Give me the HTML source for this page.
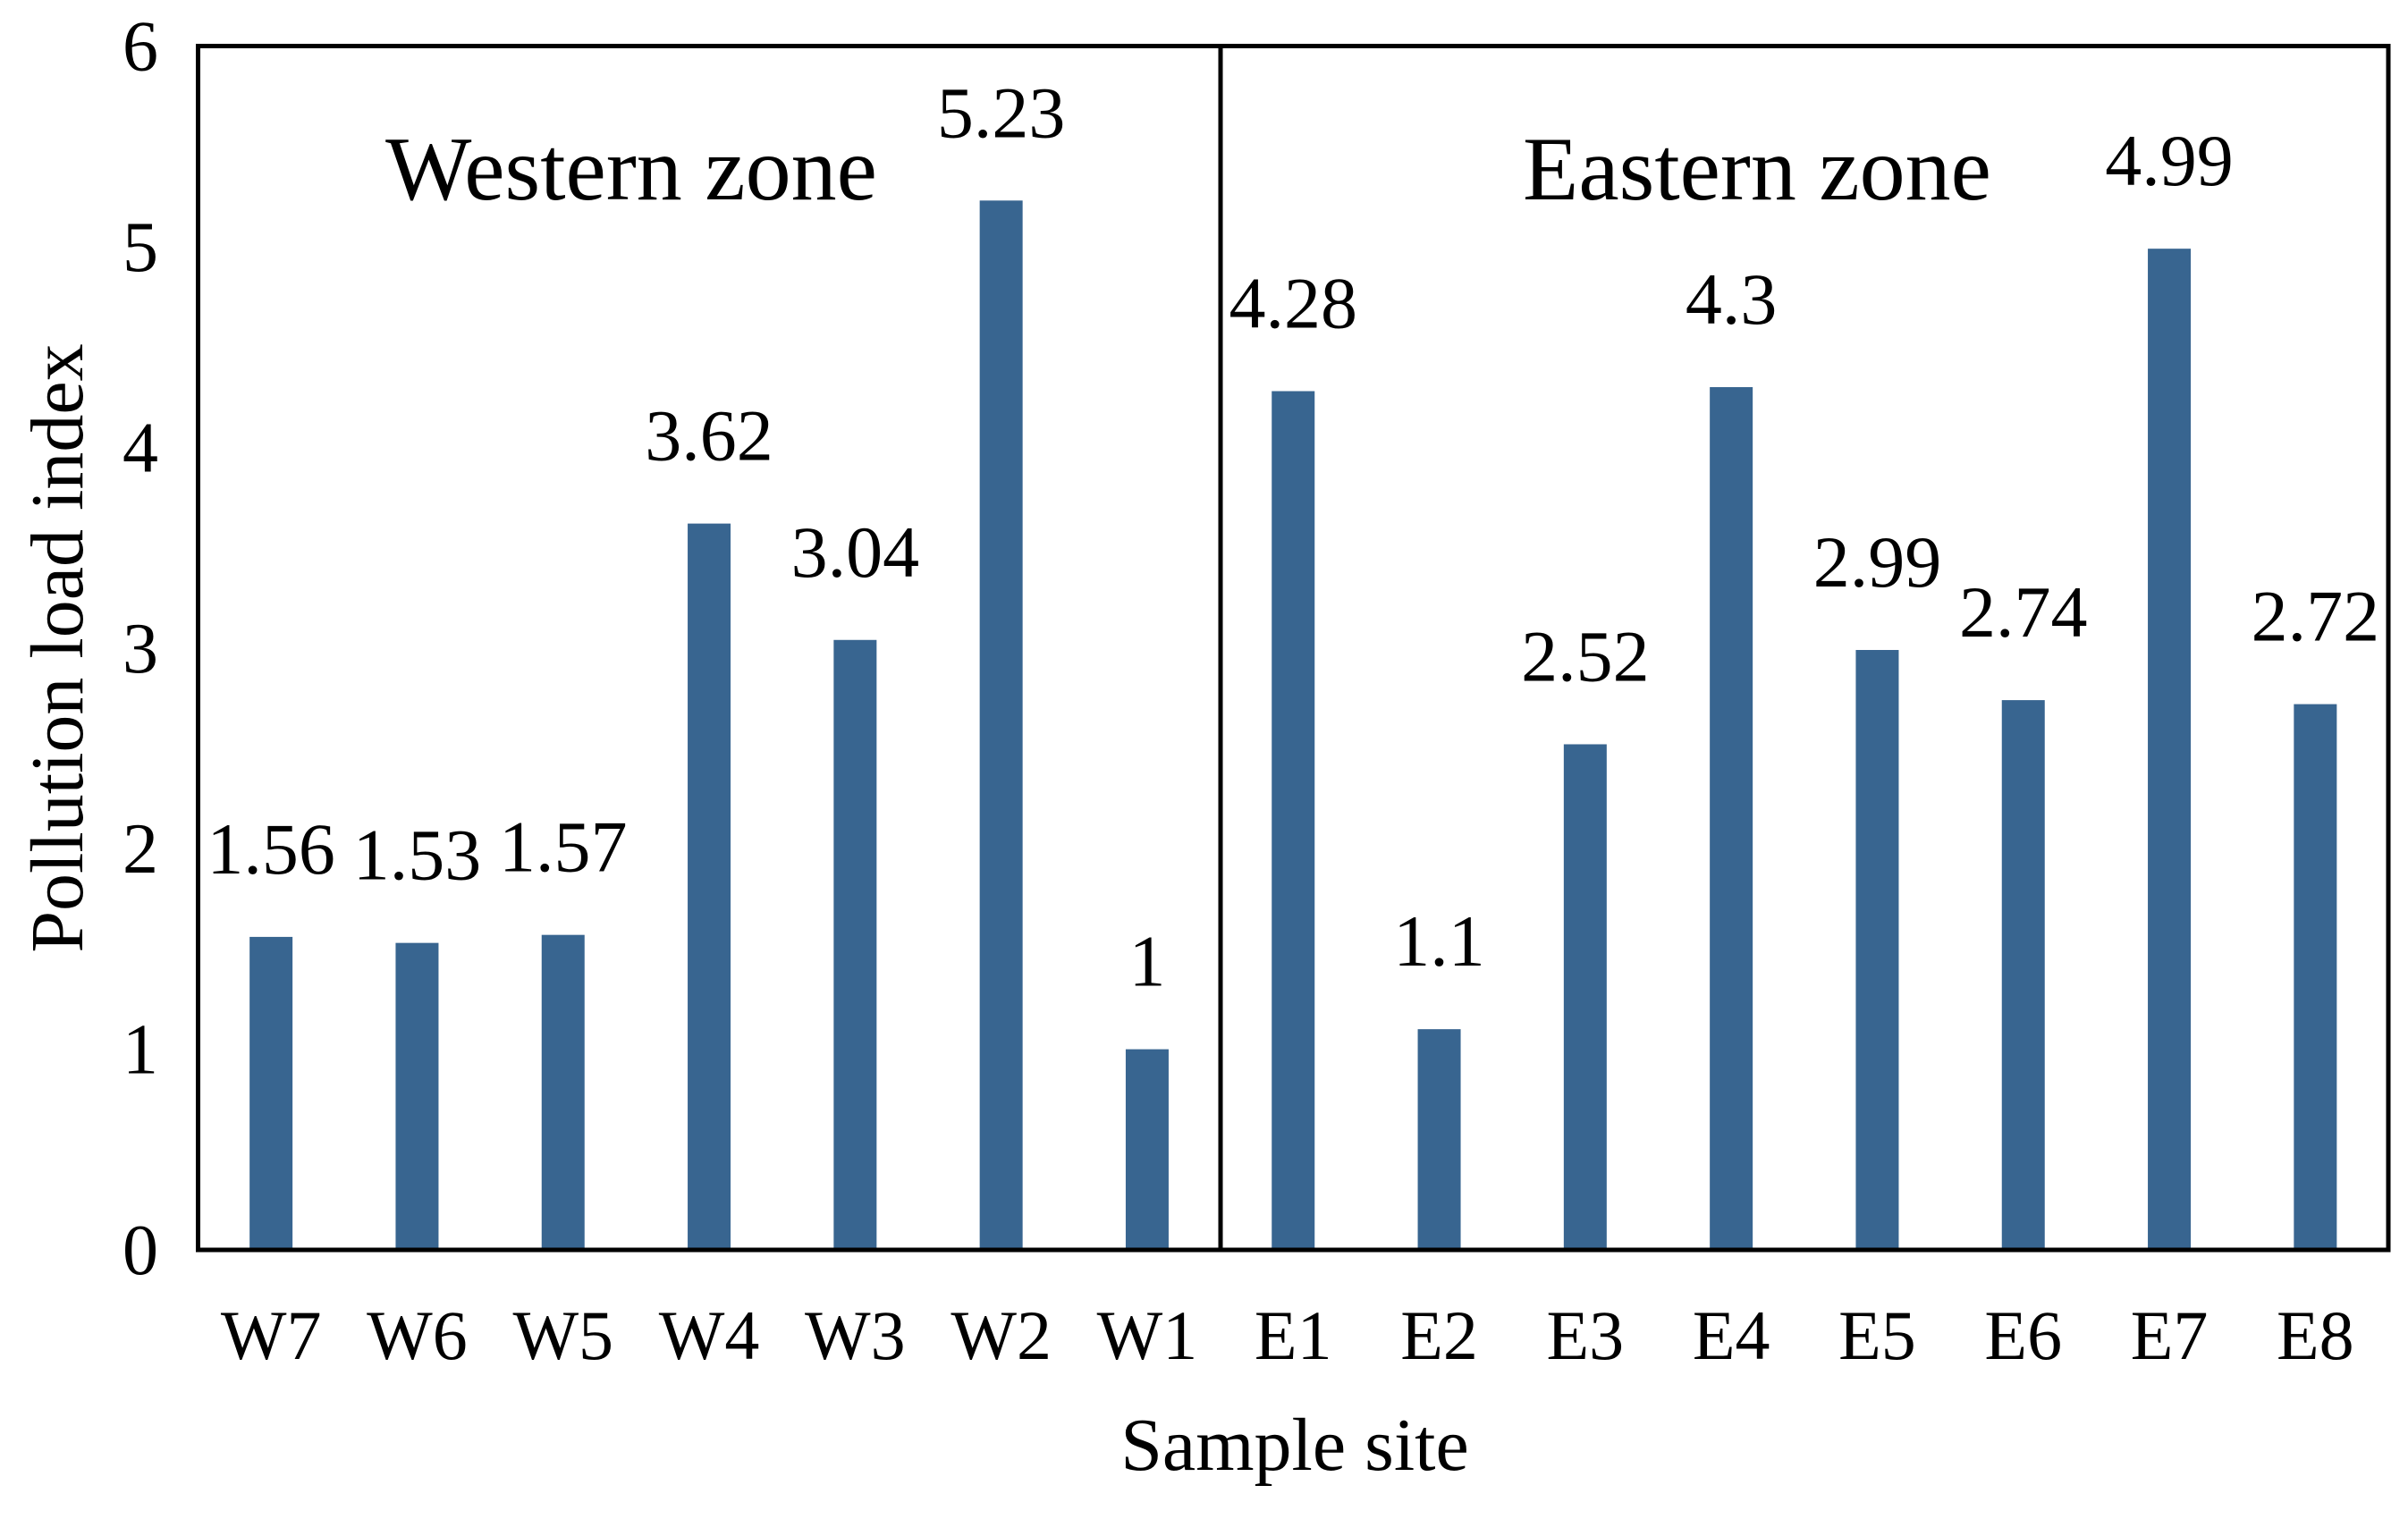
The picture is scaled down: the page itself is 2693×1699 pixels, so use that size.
<!DOCTYPE html>
<html><head><meta charset="utf-8"><style>
html,body{margin:0;padding:0;background:#fff;}
svg text{font-family:"Liberation Serif",serif;fill:#000;}
</style></head><body>
<svg id="chart" width="2693" height="1694" xmlns="http://www.w3.org/2000/svg">
<g id="bars"></g>
<g id="labels"></g>
<g id="xticks"></g>
<g id="yticks"></g>
<rect x="221.5" y="51.5" width="2449.5" height="1346.5" fill="none" stroke="#000" stroke-width="5"/>
<line x1="1365" y1="51.5" x2="1365" y2="1398" stroke="#000" stroke-width="5"/>
<text x="706" y="223" font-size="102" text-anchor="middle">Western zone</text>
<text x="1965" y="223" font-size="102" text-anchor="middle">Eastern zone</text>
<text x="1448" y="1644" font-size="84" text-anchor="middle">Sample site</text>
<text x="0" y="0" font-size="84" text-anchor="middle" transform="translate(92,725) rotate(-90)">Pollution load index</text>
</svg>
<script>
const categories=["W7","W6","W5","W4","W3","W2","W1","E1","E2","E3","E4","E5","E6","E7","E8"];
const values=[1.56,1.53,1.57,3.62,3.04,5.23,1,4.28,1.1,2.52,4.3,2.99,2.74,4.99,2.72];
const valueLabels=["1.56","1.53","1.57","3.62","3.04","5.23","1","4.28","1.1","2.52","4.3","2.99","2.74","4.99","2.72"];
const yTicks=[0,1,2,3,4,5,6];
const NS="http://www.w3.org/2000/svg";
const L=221.5,R=2671,T=51.5,B=1398,YMAX=6;
const bw=(R-L)/categories.length;
function xc(i){return L+bw*(i+0.5);}
function y(v){return B-(v/YMAX)*(B-T);}
function mk(tag,attrs,parent){const e=document.createElementNS(NS,tag);for(const k in attrs)e.setAttribute(k,attrs[k]);parent.appendChild(e);return e;}
const gb=document.getElementById('bars'),gl=document.getElementById('labels'),gx=document.getElementById('xticks'),gy=document.getElementById('yticks');
categories.forEach((c,i)=>{
  const r=mk('rect',{x:xc(i)-24,y:y(values[i]),width:48,height:B-y(values[i]),fill:'#386590'},gb);
  
  
  const t=mk('text',{x:xc(i),y:y(values[i])-71,'font-size':82,'text-anchor':'middle'},gl);
  t.textContent=valueLabels[i];
  
  
  const x=mk('text',{x:xc(i),y:1520,'font-size':78,'text-anchor':'middle'},gx);
  x.textContent=c;
  
  
});
yTicks.forEach(v=>{
  const t=mk('text',{x:177,y:y(v)+27,'font-size':80,'text-anchor':'end'},gy);
  t.textContent=v;
  
  
});
</script>
</body></html>
